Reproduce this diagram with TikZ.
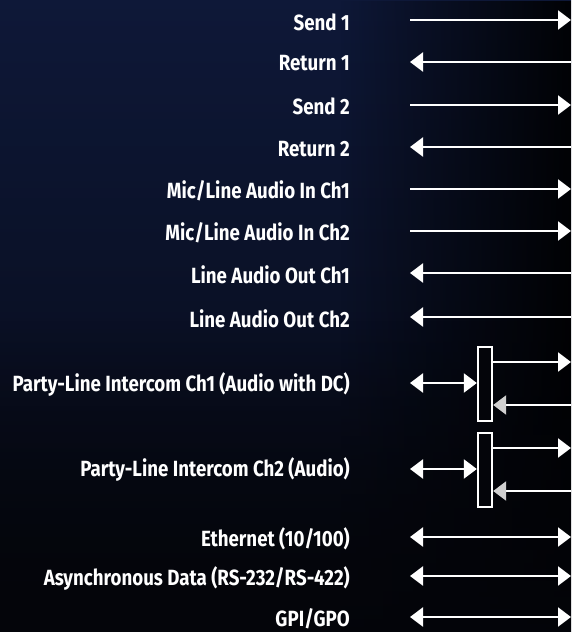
\documentclass[tikz,border=0pt]{standalone}
\usepackage{fontspec}
\setmainfont{Fira Sans}[FakeStretch=0.85]
\usetikzlibrary{arrows.meta,fadings}
\definecolor{navy}{HTML}{0E1838}
\definecolor{deep}{HTML}{04050A}
\definecolor{ingray}{HTML}{D0D0D0}
\tikzset{
  hd/.tip={Triangle[length=13pt,width=19pt]},
  ghd/.tip={Triangle[length=13pt,width=19pt,fill=ingray,color=ingray]}
}
\begin{document}
\begin{tikzpicture}[x=1pt,y=-1pt,
  lbl/.style={anchor=east, text=white, font=\bfseries\fontsize{22}{22}\selectfont, inner sep=0pt},
  sig/.style={draw=white, line width=2.3pt},
  splitbox/.style={draw=white, line width=2.3pt, fill=deep, minimum width=14pt, minimum height=74pt, inner sep=0pt}
]
\useasboundingbox (0,0) rectangle (571,632);
\shade[top color=navy, bottom color=deep, middle color=navy!60!deep] (0,0) rectangle (571,632);
\fill[black, path fading=west, fill opacity=0.9] (340,0) rectangle (571,632);
\fill[deep, path fading=north, fill opacity=0.9] (0,320) rectangle (571,632);

% labels
\node[lbl] (l1) at (350,22) {Send 1};
\node[lbl] (l2) at (350,63) {Return 1};
\node[lbl] (l3) at (350,106) {Send 2};
\node[lbl] (l4) at (350,149) {Return 2};
\node[lbl] (l5) at (350,191) {Mic/Line Audio In Ch1};
\node[lbl] (l6) at (350,233) {Mic/Line Audio In Ch2};
\node[lbl] (l7) at (350,275) {Line Audio Out Ch1};
\node[lbl] (l8) at (350,319) {Line Audio Out Ch2};
\node[lbl] (l9) at (350,384) {Party-Line Intercom Ch1 (Audio with DC)};
\node[lbl] (l10) at (350,469) {Party-Line Intercom Ch2 (Audio)};
\node[lbl] (l11) at (350,539) {Ethernet (10/100)};
\node[lbl] (l12) at (350,578) {Asynchronous Data (RS-232/RS-422)};
\node[lbl] (l13) at (350,619) {GPI/GPO};

% coordinates
\foreach \n/\y in {1/20,2/62,3/105,4/147,5/189,6/231,7/273,8/317,11/537,12/576,13/617}{
  \coordinate (a\n) at (410,\y);
  \coordinate (b\n) at (571,\y);
}
% one-way signals
\draw[sig,-{hd}] (a1) -- (b1);
\draw[sig,{hd}-] (a2) -- (b2);
\draw[sig,-{hd}] (a3) -- (b3);
\draw[sig,{hd}-] (a4) -- (b4);
\draw[sig,-{hd}] (a5) -- (b5);
\draw[sig,-{hd}] (a6) -- (b6);
\draw[sig,{hd}-] (a7) -- (b7);
\draw[sig,{hd}-] (a8) -- (b8);
\draw[sig,{hd}-{hd}] (a11) -- (b11);
\draw[sig,{hd}-{hd}] (a12) -- (b12);
\draw[sig,{hd}-{hd}] (a13) -- (b13);

% party-line split boxes
\node[splitbox] (p1) at (485,384) {};
\node[splitbox] (p2) at (485,470) {};
\coordinate (pl1) at (410,383);
\coordinate (pl2) at (410,469);
\coordinate (po1) at (571,362);
\coordinate (pi1) at (571,405);
\coordinate (po2) at (571,448);
\coordinate (pi2) at (571,491);
\draw[sig,{hd}-{hd}] (pl1) -- (pl1 -| p1.west);
\draw[sig,{hd}-{hd}] (pl2) -- (pl2 -| p2.west);
\draw[sig,-{hd}] (po1 -| p1.east) -- (po1);
\draw[sig,-{ghd}] (pi1) -- (pi1 -| p1.east);
\draw[sig,-{hd}] (po2 -| p2.east) -- (po2);
\draw[sig,-{ghd}] (pi2) -- (pi2 -| p2.east);
\end{tikzpicture}
\end{document}
